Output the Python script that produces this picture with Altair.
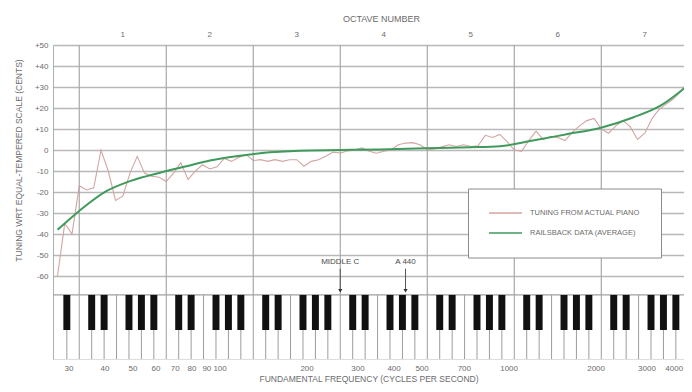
import altair as alt
import pandas as pd
import numpy as np

# ---------------- data ----------------
series_names = ["TUNING FROM ACTUAL PIANO", "RAILSBACK DATA (AVERAGE)"]

# piano keys 1..88 (A0 .. C8) and measured deviation in cents
key_numbers = list(range(1, 89))
actual_cents = [
    -60, -35, -40, -17, -19, -18, 0, -10, -24, -22,
    -11, -3, -11, -12.5, -13, -15, -11, -6, -14, -10,
    -7, -9, -8, -4, -5.4, -3.5, -2.2, -5, -4.6, -5.4,
    -4.6, -5.4, -4.6, -4.6, -7.7, -5.4, -4.6, -3, -1, -1.4,
    -0.5, 0, 1, -0.6, -1.5, -0.6, 0, 2.5, 3.3, 3.5,
    2.5, 0, 0.5, 1.5, 2.5, 1.7, 2.5, 1.7, 2, 7,
    6, 7.4, 4, 0, -0.6, 4.5, 9, 5, 6.5, 6,
    4.5, 8.5, 11.5, 14, 15, 10, 8, 11.5, 14, 11,
    5, 8, 15, 19.5, 22, 24.5, 28, 32.5,
]

railsback_freq = [27.5, 32.7, 40.7, 49.0, 62.2, 76.9, 92.6, 117.7, 149.4, 189.8,
                  261.6, 359.0, 513.8, 735.5, 934.0, 1215.0, 1589.0, 2072.0,
                  2694.0, 3342.0, 4186.0]
railsback_cents = [-38, -29, -19.5, -14.8, -10.8, -7.7, -5, -2.7, -1.1, -0.3,
                   0, 0.3, 0.8, 1.3, 1.8, 4.5, 7.5, 10.5, 15.5, 21, 31]

freq_ticks = [30, 40, 50, 60, 70, 80, 90, 100, 200, 300, 400, 500, 700,
              1000, 2000, 3000, 4000]
cents_ticks = [-60, -50, -40, -30, -20, -10, 0, 10, 20, 30, 40, 50]
octave_numbers = [1, 2, 3, 4, 5, 6, 7]
annotation_labels = ["MIDDLE C", "A 440"]
annotation_freqs = [261.63, 440.0]

# ---------------- layout constants ----------------
C1 = 32.7032
X_DOMAIN = [26.53, 4045.0]
Y_DOMAIN = [-99.5, 50]
KB_TOP = -69
KB_BOTTOM = -99.5
BK_BOTTOM = -85.7
TXT = "#6b6b6b"
PINK = "#d2a5a2"
GREEN = "#3f9a5c"
FONT = "Liberation Sans"

xs = alt.Scale(type="log", base=2, domain=X_DOMAIN, nice=False, zero=False)
ys = alt.Scale(domain=Y_DOMAIN, nice=False, zero=False)

actual_df = pd.DataFrame({
    "freq": [27.5 * 2 ** ((n - 1) / 12) for n in key_numbers],
    "cents": actual_cents,
    "series": series_names[0],
})
rails_df = pd.DataFrame({"freq": railsback_freq, "cents": railsback_cents,
                         "series": series_names[1]})
octave_df = pd.DataFrame({
    "octave": octave_numbers,
    "freq": [C1 * 2 ** (n - 1) for n in octave_numbers],
    "center": [C1 * 2 ** (n - 0.5) for n in octave_numbers],
})
white_df = pd.DataFrame({"freq": [C1 * 2 ** ((k - 2) / 7) for k in range(1, 52)]})
black_k = [k for k in range(1, 52) if (k - 2) % 7 in (1, 2, 4, 5, 6)]
black_df = pd.DataFrame({
    "freq": [C1 * 2 ** ((k - 2 - 0.28) / 7) for k in black_k],
    "f2": [C1 * 2 ** ((k - 2 + 0.28) / 7) for k in black_k],
})
ann_df = pd.DataFrame({"label": annotation_labels, "freq": annotation_freqs})
one_df = pd.DataFrame({"a": [0]})

legend = alt.Legend(
    title=None, orient="none", legendX=415, legendY=143.5, padding=20,
    strokeColor="#8c8c8c", fillColor="white", symbolType="stroke",
    symbolSize=1089, symbolStrokeWidth=1.5, labelFontSize=7.5,
    labelColor=TXT, labelFont=FONT, labelOffset=7, rowPadding=11,
    clipHeight=9, cornerRadius=0,
)
color = alt.Color("series:N",
                  scale=alt.Scale(domain=series_names, range=[PINK, GREEN]),
                  legend=legend)

x_axis = alt.Axis(
    values=freq_ticks, format="d", grid=False, domain=False, ticks=False,
    tickSize=0, labelPadding=5, labelFontSize=8, labelColor=TXT,
    labelFont=FONT, labelOverlap=False, labelFlush=False,
    labelAlign=alt.expr("datum.value >= 4000 ? 'right' : 'center'"),
    title="FUNDAMENTAL FREQUENCY (CYCLES PER SECOND)", titleFontSize=8.5,
    titleFontWeight="normal", titleColor=TXT, titleFont=FONT, titleY=22.5,
    titleBaseline="alphabetic",
)
y_axis = alt.Axis(
    values=cents_ticks, grid=True, gridColor="#b8b8b8", gridWidth=1.3,
    domain=True, domainColor="#b0b0b0", ticks=False, tickSize=0,
    labelPadding=5, labelFontSize=8, labelColor=TXT, labelFont=FONT,
    labelExpr="datum.value > 0 ? '+' + datum.value : (datum.value < 0 ? '-' + (-datum.value) : '0')",
    title="TUNING WRT EQUAL-TEMPERED SCALE (CENTS)", titleFontSize=8.5,
    titleFontWeight="normal", titleColor=TXT, titleFont=FONT, titleAngle=270,
    titleX=-35, titleY=115, titleAlign="center", titleBaseline="middle",
)


def X(field):
    return alt.X(field, type="quantitative", scale=xs, axis=x_axis)


def Yd(v):
    return alt.YDatum(v, scale=ys, axis=y_axis)


octave_rules = alt.Chart(octave_df).mark_rule(color="#a8a8a8", strokeWidth=1.2).encode(
    x=X("freq"), y=Yd(50), y2=alt.Y2Datum(KB_TOP),
)
white_keys = alt.Chart(white_df).mark_rule(color="#9c9c9c", strokeWidth=1).encode(
    x=X("freq"), y=Yd(KB_TOP), y2=alt.Y2Datum(KB_BOTTOM),
)
kb_top = alt.Chart(one_df).mark_rule(color="#a0a0a0", strokeWidth=1.2).encode(
    y=Yd(KB_TOP),
)
black_keys = alt.Chart(black_df).mark_rect(color="#111111", clip=True).encode(
    x=X("freq"), x2="f2:Q", y=Yd(KB_TOP), y2=alt.Y2Datum(BK_BOTTOM),
)
actual = alt.Chart(actual_df).mark_line(strokeWidth=1.1, clip=True).encode(
    x=X("freq"),
    y=alt.Y("cents:Q", scale=ys, axis=y_axis),
    color=color,
)
rails = alt.Chart(rails_df).mark_line(strokeWidth=2, clip=True, interpolate="monotone").encode(
    x=X("freq"),
    y=alt.Y("cents:Q", scale=ys, axis=y_axis),
    color=color,
)
ann_text = alt.Chart(ann_df).mark_text(fontSize=8, color="#4a4a4a", font=FONT).encode(
    x=X("freq"), y=Yd(-53.3), text="label:N",
)
ann_rule = alt.Chart(ann_df).mark_rule(color="#555555", strokeWidth=1).encode(
    x=X("freq"), y=Yd(-56.5), y2=alt.Y2Datum(-66.5),
)
ann_head = alt.Chart(ann_df).mark_point(shape="triangle-down", filled=True, size=18,
                                        color="#333333", opacity=1).encode(
    x=X("freq"), y=Yd(-67),
)
octave_text = alt.Chart(octave_df).mark_text(fontSize=8, color=TXT, font=FONT,
                                             baseline="middle").encode(
    x=X("center"), y=alt.value(-10), text="octave:N",
)

chart = alt.layer(
    actual, octave_rules, white_keys, kb_top, black_keys, rails, ann_text,
    ann_rule, ann_head, octave_text,
).properties(
    width=631, height=314,
    autosize=alt.AutoSizeParams(type="none"),
    padding={"left": 45, "top": 37, "right": 0, "bottom": 25},
    title=alt.TitleParams("OCTAVE NUMBER", fontSize=9, fontWeight="normal",
                          color=TXT, font=FONT, anchor="middle", frame="group",
                          offset=7, dx=13),
).configure_view(stroke=None).configure(font=FONT)

chart.save("out.html", embed_options={"renderer": "svg", "actions": False})
